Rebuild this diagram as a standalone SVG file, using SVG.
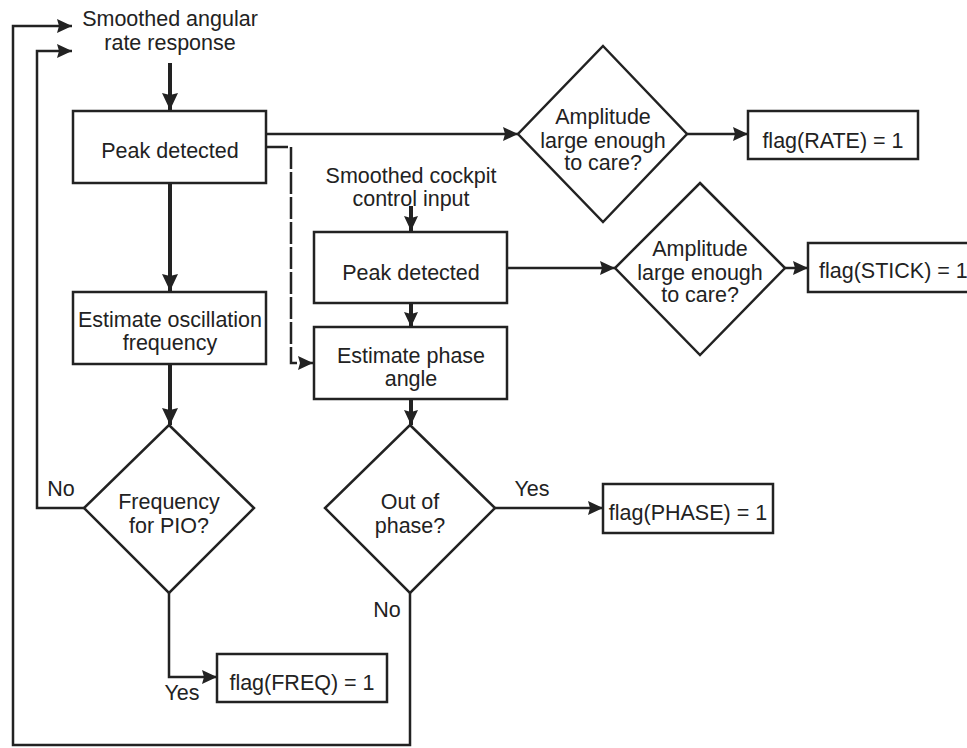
<svg xmlns="http://www.w3.org/2000/svg" width="967" height="748" viewBox="0 0 967 748">
  <style>
    .bg { fill: #ffffff; }
    .box { fill: #ffffff; stroke: #222222; stroke-width: 2.5; }
    .dia { fill: #ffffff; stroke: #222222; stroke-width: 2.5; stroke-linejoin: miter; }
    .lbl { font-family: "Liberation Sans", Arial, Helvetica, sans-serif; font-size: 21.5px; fill: #222222; text-anchor: middle; }
    .ln { fill: none; stroke: #222222; stroke-width: 2.5; }
    .thick { fill: none; stroke: #222222; stroke-width: 4; }
    .dash { fill: none; stroke: #222222; stroke-width: 2.5; stroke-dasharray: 22 3; }
  </style>
  <defs>
    <marker id="arr" markerUnits="userSpaceOnUse" markerWidth="16" markerHeight="14" refX="15" refY="7" orient="auto">
      <path d="M0,0 L15,7 L0,14 L2,7 Z" fill="#222222"/>
    </marker>
    <marker id="arrT" markerUnits="userSpaceOnUse" markerWidth="18" markerHeight="16" refX="17" refY="8" orient="auto">
      <path d="M0,0 L17,8 L0,16 L2,8 Z" fill="#222222"/>
    </marker>
  </defs>
  <rect class="bg" x="0" y="0" width="967" height="748"/>

  <!-- connectors -->
  <g id="connectors">
    <path class="ln" d="M410,593 V745 H13 V26 H72" marker-end="url(#arr)"/>
    <path class="ln" d="M84,508 H37 V51 H72" marker-end="url(#arr)"/>
    <path class="thick" d="M170,63 V110" marker-end="url(#arrT)"/>
    <path class="thick" d="M170,183 V291" marker-end="url(#arrT)"/>
    <path class="thick" d="M170,364 V425" marker-end="url(#arrT)"/>
    <path class="ln" d="M266,134 H518" marker-end="url(#arr)"/>
    <path class="ln" d="M687,134 H748" marker-end="url(#arr)"/>
    <path class="dash" d="M266,147 H291 V363 H313" marker-end="url(#arr)"/>
    <path class="thick" d="M411,206 V231" marker-end="url(#arr)"/>
    <path class="thick" d="M411,303 V327" marker-end="url(#arr)"/>
    <path class="thick" d="M411,399 V425" marker-end="url(#arr)"/>
    <path class="ln" d="M507,268 H615" marker-end="url(#arr)"/>
    <path class="ln" d="M785,268 H808" marker-end="url(#arr)"/>
    <path class="ln" d="M495,508 H603" marker-end="url(#arr)"/>
    <path class="ln" d="M169,593 V677 H217" marker-end="url(#arr)"/>
    <text class="lbl" x="61" y="496">No</text>
    <text class="lbl" x="182" y="700">Yes</text>
    <text class="lbl" x="387" y="617">No</text>
    <text class="lbl" x="532" y="496">Yes</text>
  </g>

  <!-- inputs -->
  <g id="rate-input">
    <text class="lbl" x="170" y="26">Smoothed angular</text>
    <text class="lbl" x="170" y="50">rate response</text>
  </g>
  <g id="stick-input">
    <text class="lbl" x="411" y="183">Smoothed cockpit</text>
    <text class="lbl" x="411" y="206">control input</text>
  </g>

  <!-- rate branch -->
  <g id="rate-peak">
    <rect class="box" x="73" y="111" width="193" height="72"/>
    <text class="lbl" x="170" y="158">Peak detected</text>
  </g>
  <g id="rate-amplitude">
    <polygon class="dia" points="603,46 687,134 603,222 518,134"/>
    <text class="lbl" x="603" y="124">Amplitude</text>
    <text class="lbl" x="603" y="148">large enough</text>
    <text class="lbl" x="603" y="170">to care?</text>
  </g>
  <g id="flag-rate">
    <rect class="box" x="748" y="111" width="170" height="48"/>
    <text class="lbl" x="833" y="148">flag(RATE) = 1</text>
  </g>
  <g id="estimate-frequency">
    <rect class="box" x="73" y="292" width="193" height="72"/>
    <text class="lbl" x="170" y="327">Estimate oscillation</text>
    <text class="lbl" x="170" y="350">frequency</text>
  </g>
  <g id="frequency-check">
    <polygon class="dia" points="169,425 254,508 169,593 84,508"/>
    <text class="lbl" x="169" y="509">Frequency</text>
    <text class="lbl" x="169" y="533">for PIO?</text>
  </g>
  <g id="flag-freq">
    <rect class="box" x="217" y="654" width="170" height="48"/>
    <text class="lbl" x="302" y="690">flag(FREQ) = 1</text>
  </g>

  <!-- stick branch -->
  <g id="stick-peak">
    <rect class="box" x="314" y="232" width="193" height="71"/>
    <text class="lbl" x="411" y="280">Peak detected</text>
  </g>
  <g id="stick-amplitude">
    <polygon class="dia" points="700,183 785,268 700,355 615,268"/>
    <text class="lbl" x="700" y="256">Amplitude</text>
    <text class="lbl" x="700" y="280">large enough</text>
    <text class="lbl" x="700" y="302">to care?</text>
  </g>
  <g id="flag-stick">
    <rect class="box" x="808" y="243" width="170" height="49"/>
    <text class="lbl" x="819" y="278" style="text-anchor:start">flag(STICK) = 1</text>
  </g>
  <g id="estimate-phase">
    <rect class="box" x="314" y="327" width="193" height="72"/>
    <text class="lbl" x="411" y="363">Estimate phase</text>
    <text class="lbl" x="411" y="386">angle</text>
  </g>
  <g id="phase-check">
    <polygon class="dia" points="410,425 495,508 410,593 325,508"/>
    <text class="lbl" x="410" y="509">Out of</text>
    <text class="lbl" x="410" y="533">phase?</text>
  </g>
  <g id="flag-phase">
    <rect class="box" x="603" y="484" width="170" height="49"/>
    <text class="lbl" x="688" y="520">flag(PHASE) = 1</text>
  </g>
</svg>
